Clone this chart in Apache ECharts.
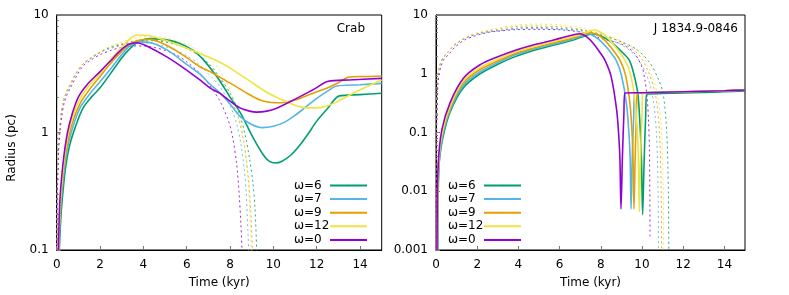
<!DOCTYPE html>
<html>
<head>
<meta charset="utf-8">
<script src="https://cdn.jsdelivr.net/npm/echarts@6/dist/echarts.min.js"></script>
<style>html,body{margin:0;padding:0;background:#fff;}#c{width:789px;height:295px;}</style>
</head>
<body>
<div id="c"></div>
<script>
// ---------- DATA ----------
const legendNames = ['ω=6', 'ω=7', 'ω=9', 'ω=12', 'ω=0'];
const colors = ['#009e73', '#56b4e9', '#e69f00', '#f0e442', '#9400d3'];
const xTicks = [0, 2, 4, 6, 8, 10, 12, 14];
const yTicksCrab = [0.1, 1, 10];
const yTicksJ = [0.001, 0.01, 0.1, 1, 10];
const yMinorCrab = [0.2,0.3,0.4,0.5,0.6,0.7,0.8,0.9,2,3,4,5,6,7,8,9];
const yMinorJ = [0.002,0.003,0.004,0.005,0.006,0.007,0.008,0.009,0.02,0.03,0.04,0.05,0.06,0.07,0.08,0.09,0.2,0.3,0.4,0.5,0.6,0.7,0.8,0.9,2,3,4,5,6,7,8,9];

// Crab: solid (PWN radius) per omega
const crabW6 = [[0.12,0.1],[0.2,0.2],[0.3,0.33],[0.42,0.52],[0.6,0.78],[0.85,1.1],[1.2,1.6],[1.6,2.0],[2.0,2.4],[2.5,3.2],[3.0,4.3],[3.3,5.0],[3.7,5.8],[4.3,6.3],[4.9,6.2],[5.6,5.8],[6.3,5.0],[6.7,4.3],[7.0,3.7],[7.5,2.8],[8.0,2.0],[8.5,1.45],[9.0,0.95],[9.5,0.66],[9.8,0.57],[10.1,0.55],[10.4,0.57],[10.8,0.64],[11.2,0.77],[11.6,0.97],[12.0,1.25],[12.5,1.6],[13.05,2.05],[14,2.1],[15,2.16]];
const crabW7 = [[0.1,0.1],[0.18,0.22],[0.28,0.37],[0.4,0.57],[0.57,0.85],[0.8,1.2],[1.1,1.65],[1.5,2.1],[2.0,2.7],[2.5,3.5],[3.0,4.6],[3.4,5.5],[3.85,5.9],[4.5,5.7],[5.2,4.9],[6.0,3.8],[6.6,3.15],[7.1,2.55],[7.5,2.2],[8.0,1.75],[8.5,1.35],[9.0,1.17],[9.5,1.1],[10.0,1.13],[10.5,1.22],[11.0,1.4],[11.5,1.65],[12.0,1.95],[12.5,2.25],[12.92,2.49],[14,2.55],[15,2.62]];
const crabW9 = [[0.09,0.1],[0.16,0.22],[0.26,0.38],[0.38,0.6],[0.55,0.9],[0.78,1.3],[1.1,1.8],[1.5,2.3],[2.0,3.0],[2.5,3.9],[3.0,4.9],[3.4,5.7],[3.8,6.1],[4.3,6.2],[5.0,5.6],[5.8,4.6],[6.61,3.63],[7.07,3.3],[7.6,2.9],[8.15,2.54],[8.8,2.15],[9.38,1.89],[9.9,1.8],[10.3,1.79],[10.8,1.85],[11.23,1.95],[11.8,2.15],[12.46,2.38],[13.0,2.65],[13.46,2.95],[14.2,3.0],[15,3.03]];
const crabW12 = [[0.085,0.1],[0.15,0.23],[0.25,0.4],[0.36,0.62],[0.52,0.95],[0.75,1.38],[1.05,1.9],[1.45,2.45],[2.0,3.2],[2.5,4.2],[3.0,5.3],[3.35,6.2],[3.7,6.76],[4.2,6.7],[5.0,6.1],[5.8,5.4],[6.61,4.7],[7.07,4.35],[7.6,3.9],[8.15,3.4],[8.9,2.75],[9.69,2.2],[10.2,1.97],[10.61,1.83],[11.1,1.68],[11.54,1.62],[12.0,1.62],[12.46,1.68],[13.0,1.85],[13.69,2.16],[14.3,2.45],[15,2.8]];
const crabW0 = [[0.08,0.1],[0.14,0.25],[0.23,0.42],[0.34,0.65],[0.5,1.0],[0.72,1.45],[1.0,2.0],[1.4,2.55],[2.0,3.3],[2.5,4.1],[2.9,4.9],[3.3,5.6],[3.69,5.8],[4.2,5.4],[5.08,4.4],[5.8,3.6],[6.61,2.8],[7.07,2.4],[7.54,2.15],[8.0,1.85],[8.46,1.62],[8.9,1.52],[9.23,1.49],[9.7,1.52],[10.15,1.61],[10.7,1.8],[11.23,2.02],[11.9,2.35],[12.53,2.73],[13.5,2.8],[15,2.89]];

// Crab: dashed (reverse shock) per omega
const crabRs6 = [[0.005,0.1],[0.03,0.35],[0.07,0.7],[0.12,1.0],[0.2,1.4],[0.3,1.85],[0.45,2.2],[0.6,2.5],[0.9,3.2],[1.23,3.85],[1.6,4.3],[2.0,4.8],[2.5,5.3],[3.0,5.6],[3.5,5.9],[4.0,6.0],[4.5,6.05],[5.0,5.9],[5.5,5.6],[6.0,5.2],[6.5,4.6],[7.0,3.9],[7.5,3.0],[8.0,2.16],[8.4,1.5],[8.7,0.95],[8.9,0.6],[9.05,0.38],[9.15,0.23],[9.23,0.1],[9.27,0.05]];
const crabRs7 = [[0.005,0.1],[0.03,0.35],[0.07,0.7],[0.12,1.0],[0.2,1.4],[0.3,1.85],[0.45,2.2],[0.6,2.5],[0.9,3.2],[1.23,3.85],[1.6,4.3],[2.0,4.8],[2.5,5.2],[3.0,5.5],[3.5,5.75],[4.0,5.8],[4.5,5.7],[5.0,5.4],[5.5,5.0],[6.0,4.5],[6.5,3.9],[7.0,3.15],[7.54,2.45],[8.0,1.7],[8.3,1.2],[8.5,0.8],[8.65,0.5],[8.75,0.3],[8.82,0.15],[8.86,0.1],[8.9,0.05]];
const crabRs9 = [[0.005,0.1],[0.03,0.35],[0.07,0.7],[0.12,1.0],[0.2,1.4],[0.3,1.85],[0.45,2.2],[0.6,2.5],[0.9,3.2],[1.23,3.85],[1.6,4.35],[2.0,4.85],[2.5,5.35],[3.0,5.7],[3.5,6.0],[4.0,6.2],[4.5,6.2],[5.0,6.0],[5.5,5.7],[6.0,5.2],[6.5,4.6],[7.0,3.8],[7.5,2.9],[8.0,2.0],[8.4,1.3],[8.65,0.8],[8.84,0.42],[8.95,0.22],[9.03,0.1],[9.06,0.05]];
const crabRs12 = [[0.005,0.1],[0.03,0.35],[0.07,0.7],[0.12,1.0],[0.2,1.4],[0.3,1.85],[0.45,2.25],[0.6,2.55],[0.9,3.25],[1.23,3.9],[1.6,4.4],[2.0,4.9],[2.5,5.45],[3.0,5.9],[3.5,6.3],[4.0,6.55],[4.5,6.6],[5.0,6.4],[5.5,6.05],[6.0,5.6],[6.5,5.0],[7.0,4.3],[7.23,4.0],[7.6,3.2],[8.0,2.3],[8.4,1.4],[8.65,0.8],[8.82,0.42],[8.92,0.2],[8.98,0.1],[9.01,0.05]];
const crabRs0 = [[0.008,0.1],[0.04,0.35],[0.09,0.7],[0.15,1.0],[0.24,1.4],[0.35,1.8],[0.5,2.15],[0.66,2.45],[0.95,3.1],[1.23,3.7],[1.6,4.15],[2.0,4.6],[2.5,5.0],[3.0,5.3],[3.5,5.45],[4.0,5.45],[4.5,5.3],[5.0,5.0],[5.5,4.6],[6.0,4.0],[6.6,3.2],[7.0,2.6],[7.5,1.9],[7.9,1.3],[8.1,0.95],[8.3,0.55],[8.42,0.3],[8.5,0.17],[8.55,0.1],[8.58,0.05]];

// J 1834.9-0846: solid per omega
const jW6 = [[0.09,0.001],[0.14,0.025],[0.33,0.08],[0.7,0.23],[1.33,0.58],[2.14,1.0],[3.0,1.45],[3.75,1.9],[4.5,2.35],[5.37,2.85],[6.0,3.25],[6.67,3.75],[7.0,4.15],[7.64,4.75],[8.0,4.4],[8.5,3.5],[9.0,2.4],[9.38,1.7],[9.6,1.0],[9.8,0.45],[9.9,0.14],[9.97,0.04],[10.03,0.004],[10.1,0.03],[10.18,0.2],[10.23,0.45],[11,0.46],[12,0.47],[13,0.48],[14,0.495],[15,0.51]];
const jW7 = [[0.08,0.001],[0.13,0.025],[0.32,0.088],[0.7,0.25],[1.33,0.64],[2.14,1.08],[3.0,1.55],[3.75,2.05],[4.5,2.5],[5.37,3.0],[6.0,3.4],[6.67,3.9],[7.1,4.4],[7.4,4.8],[7.7,4.3],[8.0,3.6],[8.4,2.5],[8.74,1.7],[9.0,0.95],[9.25,0.3],[9.38,0.08],[9.43,0.03],[9.47,0.005],[9.53,0.04],[9.6,0.2],[9.65,0.47],[10,0.475],[11,0.485],[12,0.495],[13,0.505],[14,0.515],[15,0.53]];
const jW9 = [[0.07,0.001],[0.12,0.025],[0.3,0.095],[0.7,0.27],[1.33,0.7],[2.14,1.18],[3.0,1.65],[3.75,2.15],[4.5,2.6],[5.37,3.15],[6.0,3.55],[6.67,4.1],[7.1,4.6],[7.5,5.0],[7.8,4.7],[8.1,4.0],[8.5,2.8],[8.93,1.7],[9.2,0.95],[9.42,0.3],[9.53,0.08],[9.57,0.03],[9.61,0.005],[9.67,0.04],[9.73,0.2],[9.78,0.47],[10,0.475],[11,0.485],[12,0.495],[13,0.505],[14,0.515],[15,0.53]];
const jW12 = [[0.06,0.001],[0.11,0.025],[0.3,0.1],[0.7,0.29],[1.33,0.76],[2.14,1.28],[3.0,1.78],[3.75,2.3],[4.5,2.75],[5.37,3.3],[6.0,3.75],[6.67,4.3],[7.2,4.95],[7.7,5.6],[7.9,5.3],[8.2,4.5],[8.6,3.2],[9.17,1.7],[9.45,0.95],[9.68,0.3],[9.79,0.08],[9.83,0.03],[9.87,0.0045],[9.93,0.04],[10.0,0.2],[10.05,0.47],[11,0.485],[12,0.495],[13,0.505],[14,0.515],[15,0.53]];
const jW0 = [[0.05,0.001],[0.1,0.025],[0.28,0.11],[0.68,0.32],[1.33,0.84],[2.14,1.42],[3.0,1.95],[3.75,2.45],[4.5,2.95],[5.37,3.5],[6.0,4.0],[6.67,4.6],[7.0,4.8],[7.3,4.3],[7.6,3.4],[7.96,2.3],[8.2,1.7],[8.5,0.9],[8.77,0.24],[8.88,0.08],[8.93,0.034],[8.98,0.005],[9.05,0.04],[9.12,0.2],[9.17,0.47],[10,0.475],[11,0.485],[12,0.495],[13,0.505],[14,0.515],[15,0.53]];

// J 1834.9-0846: dashed per omega
const jRs6 = [[0.003,0.001],[0.01,0.02],[0.025,0.12],[0.05,0.4],[0.08,0.8],[0.11,1.1],[0.2,1.45],[0.35,1.9],[0.52,2.2],[0.8,2.9],[1.0,3.3],[1.33,3.9],[1.7,4.4],[2.14,4.9],[2.6,5.2],[3.0,5.4],[4.0,6.0],[5.0,6.1],[6.0,5.9],[7.0,5.5],[8.0,4.6],[9.0,3.5],[9.8,2.5],[10.4,1.5],[10.8,0.8],[11.03,0.45],[11.2,0.1],[11.28,0.01],[11.3,0.0008]];
const jRs7 = [[0.003,0.001],[0.01,0.02],[0.025,0.12],[0.05,0.4],[0.08,0.8],[0.11,1.1],[0.2,1.45],[0.35,1.9],[0.52,2.2],[0.8,2.9],[1.0,3.3],[1.33,3.9],[1.7,4.4],[2.14,4.9],[2.6,5.2],[3.0,5.4],[4.0,5.8],[5.0,5.9],[6.0,5.7],[7.0,5.2],[8.0,4.3],[9.0,3.1],[9.7,2.0],[10.2,1.0],[10.5,0.45],[10.7,0.1],[10.78,0.01],[10.8,0.0008]];
const jRs9 = [[0.003,0.001],[0.01,0.02],[0.025,0.12],[0.05,0.4],[0.08,0.8],[0.11,1.1],[0.2,1.45],[0.35,1.9],[0.52,2.2],[0.8,2.9],[1.0,3.3],[1.33,3.95],[1.7,4.5],[2.14,5.0],[2.6,5.4],[3.0,5.7],[4.0,6.4],[5.0,6.5],[6.0,6.3],[7.0,5.7],[8.0,4.7],[9.0,3.4],[9.8,2.2],[10.3,1.1],[10.65,0.45],[10.85,0.1],[10.93,0.01],[10.95,0.0008]];
const jRs12 = [[0.003,0.001],[0.01,0.02],[0.025,0.12],[0.05,0.4],[0.08,0.8],[0.11,1.1],[0.2,1.45],[0.35,1.9],[0.52,2.2],[0.8,2.95],[1.0,3.35],[1.33,4.0],[1.7,4.6],[2.14,5.1],[2.6,5.6],[3.0,6.0],[4.0,6.8],[5.0,7.0],[6.0,6.8],[7.0,6.1],[8.0,4.9],[9.0,3.6],[9.9,2.3],[10.4,1.1],[10.75,0.45],[10.95,0.1],[11.03,0.01],[11.05,0.0008]];
const jRs0 = [[0.005,0.001],[0.015,0.02],[0.035,0.12],[0.07,0.4],[0.1,0.7],[0.15,1.0],[0.25,1.35],[0.4,1.8],[0.6,2.1],[0.9,2.8],[1.1,3.2],[1.4,3.8],[1.8,4.3],[2.2,4.75],[2.6,5.1],[3.0,5.3],[3.75,5.6],[5.0,5.7],[6.3,5.5],[7.3,4.9],[8.0,4.0],[9.0,3.2],[9.6,2.3],[10.0,1.3],[10.15,0.75],[10.25,0.4],[10.32,0.15],[10.36,0.05],[10.38,0.01],[10.39,0.0017]];

const crabSolid = [crabW6, crabW7, crabW9, crabW12, crabW0];
const crabDash = [crabRs6, crabRs7, crabRs9, crabRs12, crabRs0];
const jSolid = [jW6, jW7, jW9, jW12, jW0];
const jDash = [jRs6, jRs7, jRs9, jRs12, jRs0];

// ---------- CHART ----------
const FONT = 'DejaVu Sans';
const chart = echarts.init(document.getElementById('c'), null, {renderer: 'canvas'});

function xAxisDef(gi) {
  return {
    type: 'value', gridIndex: gi, min: 0, max: 15, interval: 2,
    name: 'Time (kyr)', nameLocation: 'middle', nameGap: 27,
    nameTextStyle: {fontFamily: FONT, fontSize: 12, color: '#000'},
    axisLine: {show: true, onZero: false, lineStyle: {color: '#000', width: 1}},
    axisTick: {show: true, inside: true, length: 4, lineStyle: {color: '#777'}, customValues: xTicks},
    axisLabel: {show: true, margin: 9, fontFamily: FONT, fontSize: 12, color: '#000', customValues: xTicks},
    splitLine: {show: false}
  };
}
function yAxisDef(gi, min, max, ticks) {
  return {
    type: 'log', logBase: 10, gridIndex: gi, min: min, max: max,
    axisLine: {show: true, lineStyle: {color: '#000', width: 1}},
    axisTick: {show: true, inside: true, length: 4, lineStyle: {color: '#777'}, customValues: ticks},
    axisLabel: {show: true, margin: 8, fontFamily: FONT, fontSize: 12, color: '#000', customValues: ticks,
      formatter: v => String(v)},
    splitLine: {show: false}
  };
}
function yMinorDef(gi, min, max, ticks) {
  return {
    type: 'log', logBase: 10, gridIndex: gi, min: min, max: max, position: 'left',
    axisLine: {show: false},
    axisTick: {show: true, inside: true, length: 2, lineStyle: {color: '#777'}, customValues: ticks},
    axisLabel: {show: false},
    splitLine: {show: false}
  };
}

const series = [];
function addSet(arrs, gi, yi, dashed) {
  arrs.forEach((d, i) => {
    series.push({
      type: 'line',
      name: dashed ? legendNames[i] + ' rs' : legendNames[i],
      xAxisIndex: gi, yAxisIndex: yi,
      data: d,
      showSymbol: false, symbol: 'none',
      legendIcon: 'rect',
      smooth: 0.3,
      clip: true,
      silent: true,
      animation: false,
      z: dashed ? 2 : 3,
      lineStyle: dashed
        ? {color: colors[i], width: 1, type: [2, 3], opacity: 0.85}
        : {color: colors[i], width: 1.6},
      itemStyle: {color: colors[i]}
    });
  });
}
addSet(crabDash, 0, 0, true);
addSet(crabSolid, 0, 0, false);
addSet(jDash, 1, 2, true);
addSet(jSolid, 1, 2, false);

function legendDef(left) {
  return {
    data: legendNames, orient: 'vertical', align: 'right',
    left: left, top: 179.5, itemWidth: 37, itemHeight: 1.6, itemGap: 1.6,
    padding: 0, selectedMode: false,
    formatter: n => '{a|' + n + '}',
    textStyle: {fontFamily: FONT, fontSize: 12, color: '#000', lineHeight: 12,
      rich: {a: {fontFamily: FONT, fontSize: 12, color: '#000', width: 31, align: 'left', lineHeight: 12}}}
  };
}

chart.setOption({
  animation: false,
  backgroundColor: '#fff',
  grid: [
    {left: 56.7, right: 407.3, top: 15, bottom: 45, containLabel: false, show: true, borderColor: '#000', borderWidth: 1},
    {left: 436, right: 44, top: 15, bottom: 45, containLabel: false, show: true, borderColor: '#000', borderWidth: 1}
  ],
  xAxis: [xAxisDef(0), xAxisDef(1)],
  yAxis: [
    yAxisDef(0, 0.1, 10, yTicksCrab),
    yMinorDef(0, 0.1, 10, yMinorCrab),
    yAxisDef(1, 0.001, 10, yTicksJ),
    yMinorDef(1, 0.001, 10, yMinorJ)
  ],
  legend: [legendDef(294), legendDef(448)],
  graphic: [
    {type: 'text', x: 12, y: 148, rotation: Math.PI / 2,
      style: {text: 'Radius (pc)', fontFamily: FONT, fontSize: 12, fill: '#000', textAlign: 'center', textVerticalAlign: 'middle'}},
    {type: 'text', x: 365, y: 29,
      style: {text: 'Crab', fontFamily: FONT, fontSize: 12, fill: '#000', textAlign: 'right', textVerticalAlign: 'middle'}},
    {type: 'text', x: 738, y: 29,
      style: {text: 'J 1834.9-0846', fontFamily: FONT, fontSize: 12, fill: '#000', textAlign: 'right', textVerticalAlign: 'middle'}}
  ],
  series: series
});
</script>
</body>
</html>
